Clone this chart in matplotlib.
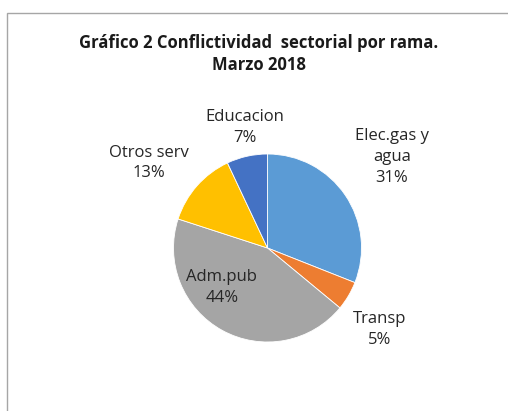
import matplotlib.pyplot as plt
import matplotlib.patches as patches
import numpy as np

# Conflictividad sectorial por rama, marzo 2018 (%)
ramas = ["Elec.gas y\nagua", "Transp", "Adm.pub", "Otros serv", "Educacion"]
porcentajes = [31, 5, 44, 13, 7]
colores = ["#5B9BD5", "#ED7D31", "#A5A5A5", "#FFC000", "#4472C4"]

# label placement: (radius factor, angle tweak in degrees) per slice
label_pos = [(1.64, 2.0), (1.47, -5.5), (0.64, -20.6), (1.55, 5.7), (1.30, -2.0)]

W, H = 508, 411
fig = plt.figure(figsize=(W / 100, H / 100), dpi=100)
ax = fig.add_axes([0, 0, 1, 1])

# chart frame (right/bottom edges run off the picture)
ax.add_patch(patches.Rectangle((6.5, -5), W + 10, H - 13 + 5, fill=False,
                               edgecolor="#A6A6A6", linewidth=1.0))

cx, cy, r = 267.5, H - 248, 94
wedges, _ = ax.pie(porcentajes, colors=colores, startangle=90, counterclock=False,
                   center=(cx, cy), radius=r, frame=True,
                   wedgeprops=dict(edgecolor="white", linewidth=0.6))
ax.set_xlim(0, W)
ax.set_ylim(0, H)
ax.set_aspect("equal")
ax.axis("off")

font = "Open Sans"
for w, nombre, pct, (fr, tw) in zip(wedges, ramas, porcentajes, label_pos):
    ang = np.deg2rad((w.theta1 + w.theta2) / 2 + tw)
    x = cx + r * fr * np.cos(ang)
    y = cy + r * fr * np.sin(ang)
    ax.text(x, y, f"{nombre}\n{pct}%", ha="center", va="center",
            fontsize=12, family=font, color="#262626", linespacing=1.4)

fig.text(259 / W, 1 - 54 / H, "Gráfico 2 Conflictividad  sectorial por rama.\nMarzo 2018",
         ha="center", va="center", fontsize=12, fontweight="bold", family=font,
         color="#1a1a1a", linespacing=1.35)

fig.savefig("out.png", dpi=100)
